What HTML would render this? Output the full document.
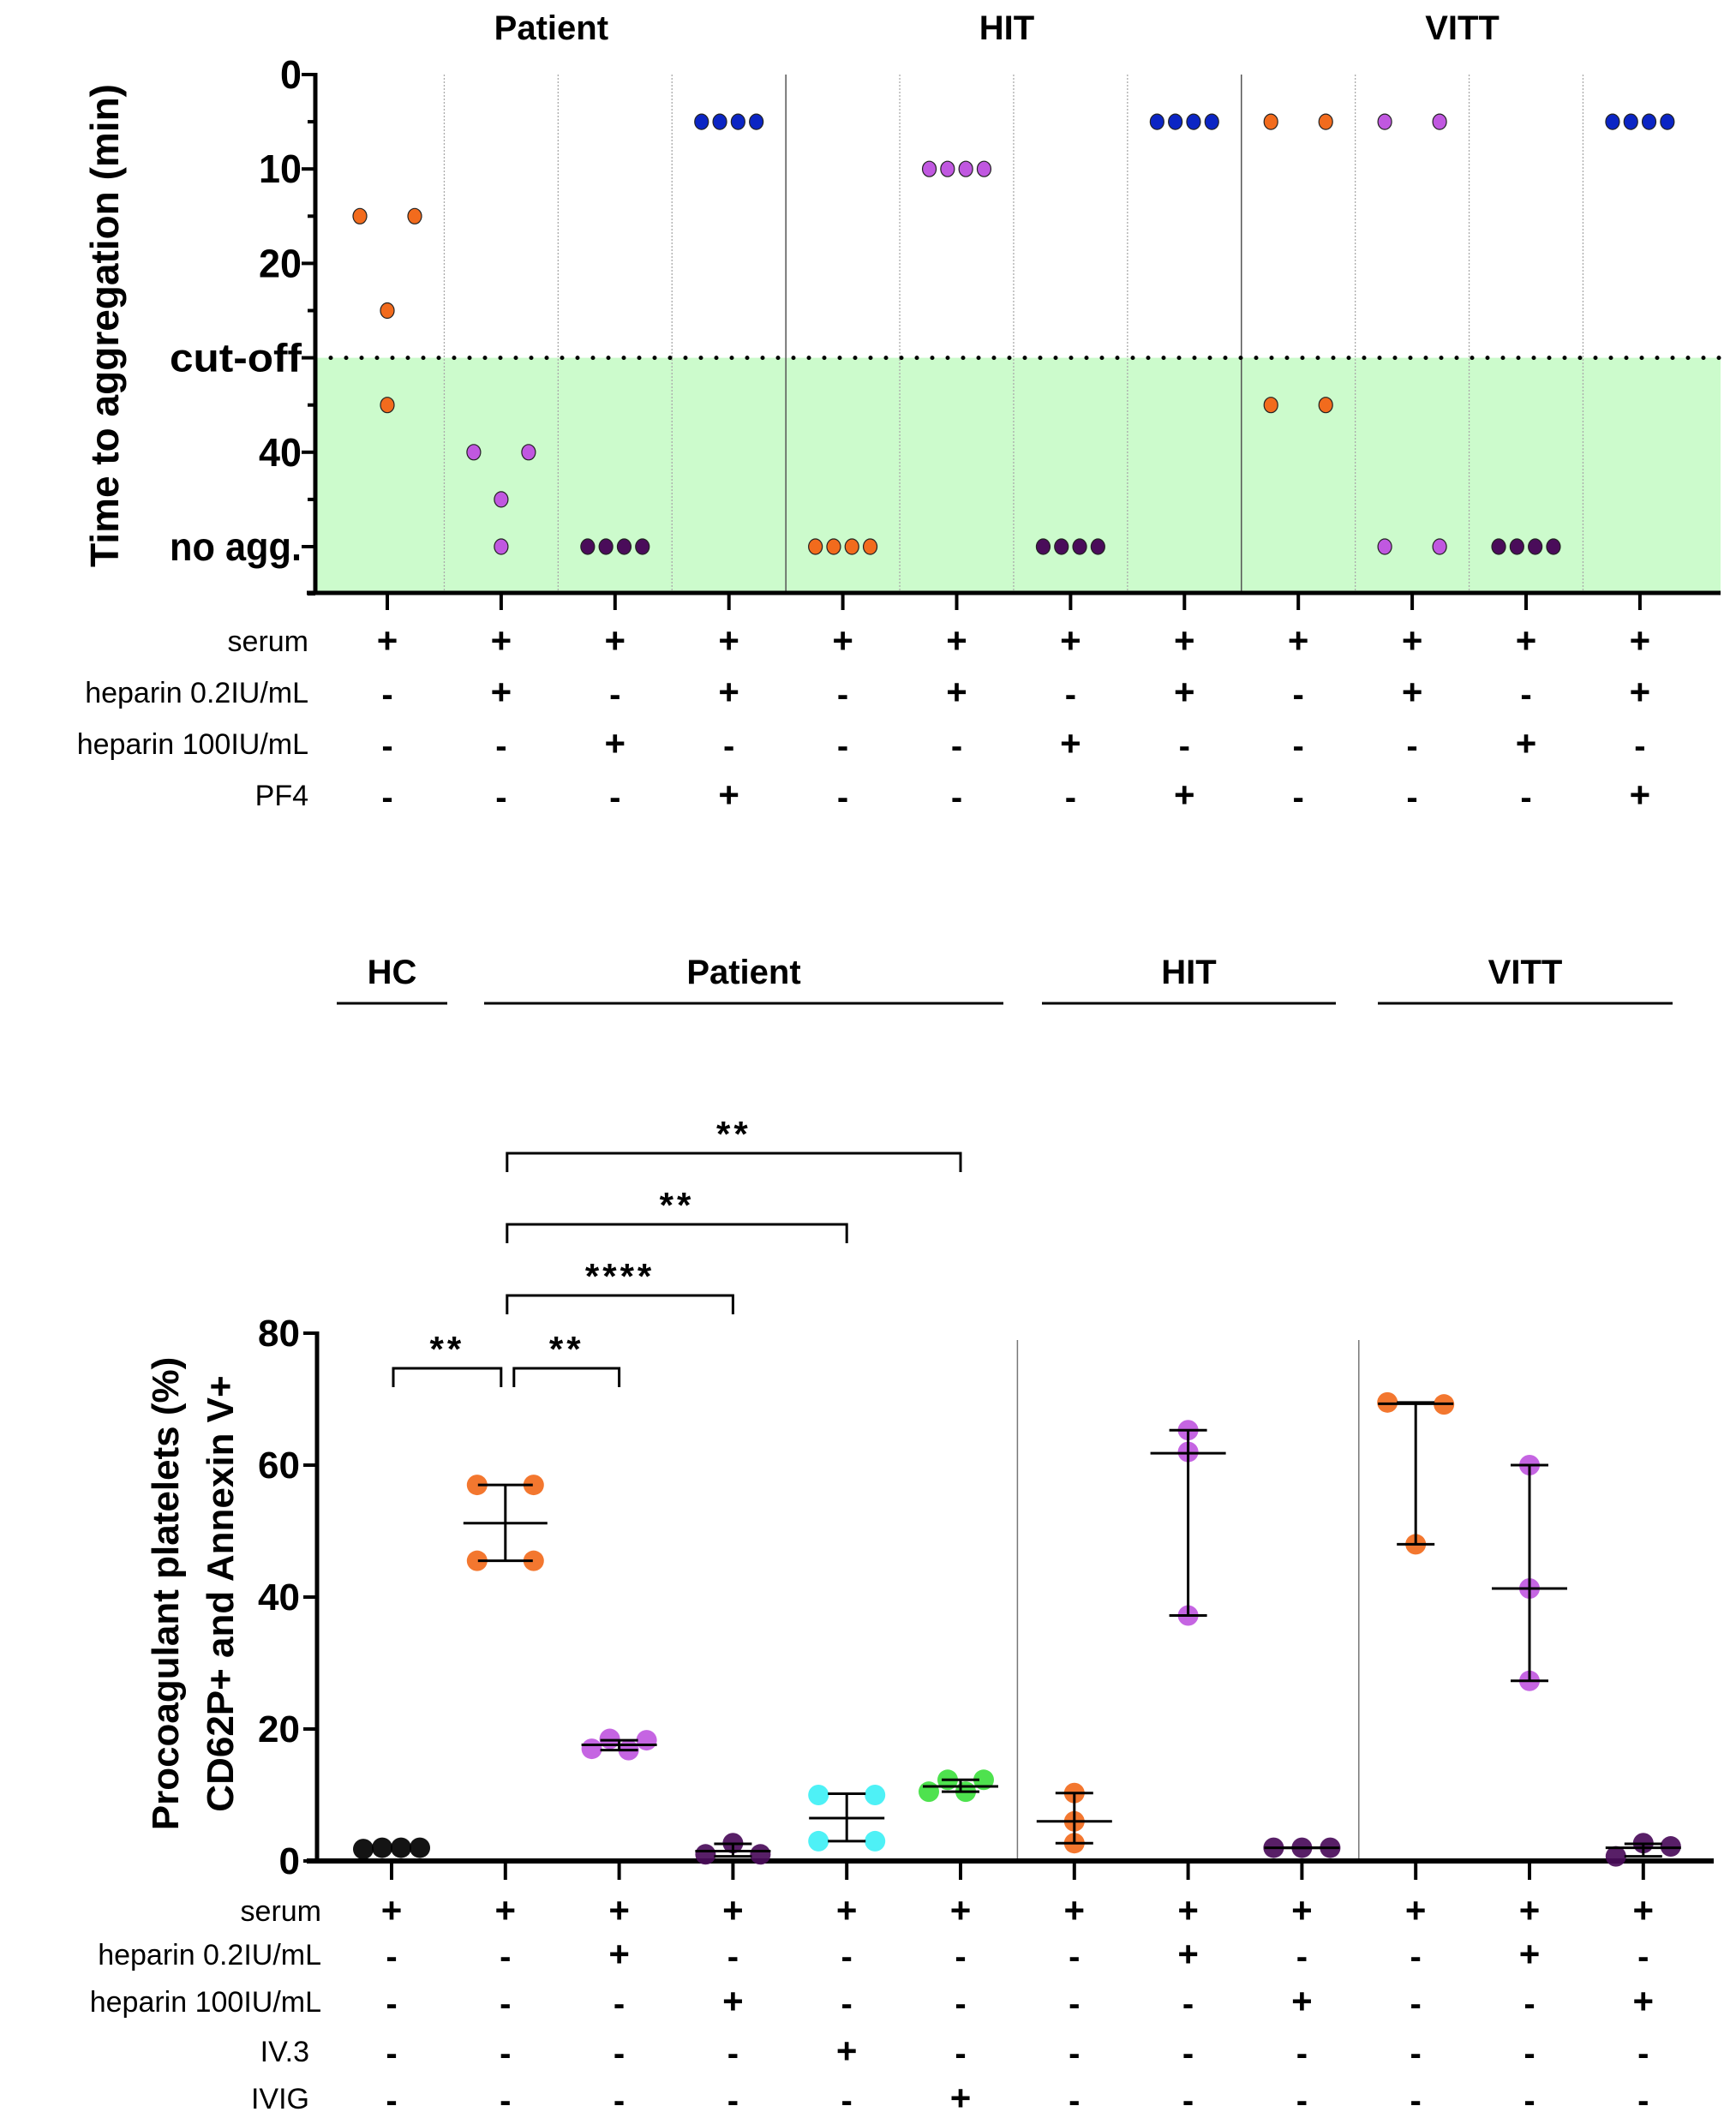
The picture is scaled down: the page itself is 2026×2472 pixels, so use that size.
<!DOCTYPE html>
<html><head><meta charset="utf-8">
<style>
html,body{margin:0;padding:0;background:#fff}
svg{display:block}
text{font-family:"Liberation Sans",Arial,sans-serif}
</style></head>
<body>
<svg id="chart" width="2026" height="2472" viewBox="0 0 2026 2472" xmlns="http://www.w3.org/2000/svg">
<rect x="0" y="0" width="2026" height="2472" fill="#fff"/>
<g id="top"></g>
<g id="bot"></g>
</svg>
<script>
// ---------- TOP CHART DATA ----------
const topGroups = ["Patient","HIT","VITT"];
const topColors = ["#f26b1d","#c058e0","#4a0c5a","#0b25c4","#f26b1d","#c058e0","#4a0c5a","#0b25c4","#f26b1d","#c058e0","#4a0c5a","#0b25c4"];
const topValues = [
  [15,15,25,35],[40,40,45,50],[50,50,50,50],[5,5,5,5],
  [50,50,50,50],[10,10,10,10],[50,50,50,50],[5,5,5,5],
  [5,5,35,35],[5,5,50,50],[50,50,50,50],[5,5,5,5]
];
const topTickValues = [0,10,20,30,40,50];
const topTickLabels = ["0","10","20","cut-off","40","no agg."];
const topCutoff = 30;
const topRowLabels = ["serum","heparin 0.2IU/mL","heparin 100IU/mL","PF4"];
const topRows = [
  "++++++++++++",
  "-+-+-+-+-+-+",
  "--+---+---+-",
  "---+---+---+"
];
// ---------- BOTTOM CHART DATA ----------
const botGroups = ["HC","Patient","HIT","VITT"];
const botColors = ["#000000","#f26b1d","#c058e0","#4a0c5a","#3ff0f5","#3fe03f","#f26b1d","#c058e0","#4a0c5a","#f26b1d","#c058e0","#4a0c5a"];
const botValues = [
  [1.8,2.0,2.0,2.0],[57,57,45.5,45.5],[17,18.5,16.8,18.3],[1,2.7,1],
  [10,10,3,3],[12.3,12.3,10.5,10.5],[10.3,6,2.7],[65.3,62,37.2],
  [2,2,2],[69.5,69.2,48],[60,41.3,27.3],[0.7,2.7,2.2]
];
const botCenter = [2,51.2,17.6,1.5,6.5,11.3,6,61.8,2,69.3,41.3,2];
const botLow = [null,45.5,16.8,0.7,3,10.5,2.7,37.2,2,48,27.3,0.7];
const botHigh = [null,57,18.3,2.6,10.2,12.3,10.3,65.3,2,69.5,60,2.6];
const botTickValues = [0,20,40,60,80];
const sigFrom = [0,1,1,1,1];
const sigTo = [1,2,3,4,5];
const sigLabels = ["**","**","****","**","**"];
const botRowLabels = ["serum","heparin 0.2IU/mL","heparin 100IU/mL","IV.3","IVIG"];
const botRows = [
  "++++++++++++",
  "--+----+--+-",
  "---+----+--+",
  "----+-------",
  "-----+------"
];

const NS="http://www.w3.org/2000/svg";
function mk(parent,tag,attrs,txt){const e=document.createElementNS(NS,tag);for(const k in attrs)e.setAttribute(k,attrs[k]);if(txt!==undefined)e.textContent=txt;parent.appendChild(e);return e;}

// ===== TOP =====
const T=document.getElementById('top');
const tX0=368,tX1=2008,tY0=87,tPx=11.02,tYb=692;
const tx=i=>452+i*132.9;
const ty=v=>tY0+v*tPx;
let r=mk(T,'rect',{x:tX0,y:ty(topCutoff),width:tX1-tX0,height:tYb-ty(topCutoff),fill:"#ccfbcc"});

for(let i=0;i<11;i++){
  const x=(tx(i)+tx(i+1))/2;const solid=(i===3||i===7);
  const l=mk(T,'line',{x1:x,x2:x,y1:tY0,y2:tYb,stroke:solid?"#555":"#aaa","stroke-width":solid?1.5:1.3,"stroke-dasharray":solid?"none":"2,2"});
  
}
let cl=mk(T,'line',{x1:tX0,x2:tX1,y1:ty(topCutoff),y2:ty(topCutoff),stroke:"#000","stroke-width":5,"stroke-dasharray":"0,18","stroke-linecap":"round"});

let ya=mk(T,'line',{x1:tX0,x2:tX0,y1:tY0-2,y2:tYb+2,stroke:"#000","stroke-width":5});

let xa=mk(T,'line',{x1:tX0-10,x2:tX1,y1:tYb,y2:tYb,stroke:"#000","stroke-width":5});

for(let v=0;v<=55;v+=5){const big=(v%10===0);mk(T,'line',{x1:tX0-(big?16:9),x2:tX0,y1:ty(v),y2:ty(v),stroke:"#000","stroke-width":4});}
topTickValues.forEach((v,i)=>{
  const t=mk(T,'text',{x:tX0-16,y:ty(v)+16,"text-anchor":"end","font-size":46,"font-weight":"bold",textLength:(topTickLabels[i].length>3?topTickLabels[i].length*22:topTickLabels[i].length*25),lengthAdjust:"spacingAndGlyphs"},topTickLabels[i]);
  
});
let yt=mk(T,'text',{x:0,y:0,transform:"translate(138,380) rotate(-90)","text-anchor":"middle","font-size":46,"font-weight":"bold"},"Time to aggregation (min)");

topGroups.forEach((g,i)=>{
  const t=mk(T,'text',{x:(tx(i*4)+tx(i*4+3))/2-8,y:46,"text-anchor":"middle","font-size":40,"font-weight":"bold"},g);
  
});
topValues.forEach((vals,i)=>{
  mk(T,'line',{x1:tx(i),x2:tx(i),y1:tYb,y2:tYb+20,stroke:"#000","stroke-width":4});
  const allSame=vals.every(v=>v===vals[0]);
  const counts={};
  vals.forEach((v,j)=>{
    let dx=0;
    if(allSame){dx=(j-1.5)*21.3;}
    else{const same=vals.filter(w=>w===v).length;counts[v]=(counts[v]||0);if(same===2){dx=counts[v]===0?-32:32;}counts[v]++;}
    const c=mk(T,'ellipse',{cx:tx(i)+dx,cy:ty(v),rx:8,ry:9,fill:topColors[i],stroke:"#222","stroke-width":1.2});
    
  });
});
const tRowY=[760,820,880,940];
topRowLabels.forEach((lab,ri)=>{
  const t=mk(T,'text',{x:360,y:tRowY[ri],"text-anchor":"end","font-size":34},lab);
  
  [...topRows[ri]].forEach((s,i)=>{
    const m=mk(T,'text',{x:tx(i),y:tRowY[ri]+(s==='+'?2:4),"text-anchor":"middle","font-size":s==='+'?42:40,"font-weight":"bold"},s);
    
  });
});

// ===== BOTTOM =====
const B=document.getElementById('bot');
const bX0=370,bX1=2000,bY0=2172,bPx=7.7;
const bx=i=>457+i*132.8;
const by=v=>bY0-v*bPx;
// layout offsets (pixels) per column for point spreading
const jitter=[[-33,-11,11,33],[-33,33,-33,33],[-32,-11,11,32],[-32,0,32],[-33,33,-33,33],[-15,27,-37,6],[0,0,0],[0,0,0],[-33,0,33],[-33,33,0],[0,0,0],[-32,0,32]];
[[5.5],[8.5]].forEach(a=>{const x=(bx(Math.floor(a[0]))+bx(Math.ceil(a[0])))/2;
  const l=mk(B,'line',{x1:x,x2:x,y1:1564,y2:bY0,stroke:"#777","stroke-width":1.5});
  });
let bya=mk(B,'line',{x1:bX0,x2:bX0,y1:by(80)-2,y2:bY0+2,stroke:"#000","stroke-width":5});

let bxa=mk(B,'line',{x1:bX0-12,x2:bX1,y1:bY0,y2:bY0,stroke:"#000","stroke-width":6});

botTickValues.forEach(v=>{
  mk(B,'line',{x1:bX0-16,x2:bX0,y1:by(v),y2:by(v),stroke:"#000","stroke-width":4});
  const t=mk(B,'text',{x:bX0-20,y:by(v)+15,"text-anchor":"end","font-size":44,"font-weight":"bold"},String(v));
  
});
let bt1=mk(B,'text',{x:0,y:0,transform:"translate(208,1860) rotate(-90)","text-anchor":"middle","font-size":44,"font-weight":"bold"},"Procoagulant platelets (%)");

let bt2=mk(B,'text',{x:0,y:0,transform:"translate(272,1860) rotate(-90)","text-anchor":"middle","font-size":44,"font-weight":"bold"},"CD62P+ and Annexin V+");

const gLine=[[393,522],[565,1171],[1216,1559],[1608,1952]];
botGroups.forEach((g,i)=>{
  const t=mk(B,'text',{x:(gLine[i][0]+gLine[i][1])/2,y:1148,"text-anchor":"middle","font-size":40,"font-weight":"bold"},g);
  
  const l=mk(B,'line',{x1:gLine[i][0],x2:gLine[i][1],y1:1171,y2:1171,stroke:"#000","stroke-width":3});
  
});
const sigY=[1597,1597,1512,1429,1346];
sigLabels.forEach((s,k)=>{
  const x1=bx(sigFrom[k])+(k===1?10:2),x2=bx(sigTo[k])-(k===0?5:0),y=sigY[k];
  const p=mk(B,'path',{d:`M${x1},${y+22} V${y} H${x2} V${y+22}`,fill:"none",stroke:"#000","stroke-width":3});
  
  const t=mk(B,'text',{x:(x1+x2)/2,y:y-8,"text-anchor":"middle","font-size":42,"font-weight":"bold","letter-spacing":"4"},s);
  
});
botValues.forEach((vals,i)=>{
  mk(B,'line',{x1:bx(i),x2:bx(i),y1:bY0,y2:bY0+22,stroke:"#000","stroke-width":4});
  vals.forEach((v,j)=>{
    const dx=jitter[i][j]||0;
    const c=mk(B,'circle',{cx:bx(i)+dx,cy:by(v),r:12,fill:botColors[i],"fill-opacity":0.92});
    
  });
  if(botLow[i]!==null){
    const wide=(i===1)?49:44, cap=(i===1)?32:22;
    mk(B,'line',{x1:bx(i),x2:bx(i),y1:by(botLow[i]),y2:by(botHigh[i]),stroke:"#000","stroke-width":3});
    mk(B,'line',{x1:bx(i)-cap,x2:bx(i)+cap,y1:by(botLow[i]),y2:by(botLow[i]),stroke:"#000","stroke-width":3});
    mk(B,'line',{x1:bx(i)-cap,x2:bx(i)+cap,y1:by(botHigh[i]),y2:by(botHigh[i]),stroke:"#000","stroke-width":3});
    const m=mk(B,'line',{x1:bx(i)-wide,x2:bx(i)+wide,y1:by(botCenter[i]),y2:by(botCenter[i]),stroke:"#000","stroke-width":3});
    
  }
});
const bRowY=[2242,2293,2348,2406,2461];
botRowLabels.forEach((lab,ri)=>{
  const t=mk(B,'text',{x:ri===3||ri===4?361:375,y:bRowY[ri],"text-anchor":"end","font-size":34},lab);
  
  [...botRows[ri]].forEach((s,i)=>{
    const m=mk(B,'text',{x:bx(i),y:bRowY[ri]+(s==='+'?2:4),"text-anchor":"middle","font-size":s==='+'?42:40,"font-weight":"bold"},s);
    
  });
});
</script>
</body></html>
